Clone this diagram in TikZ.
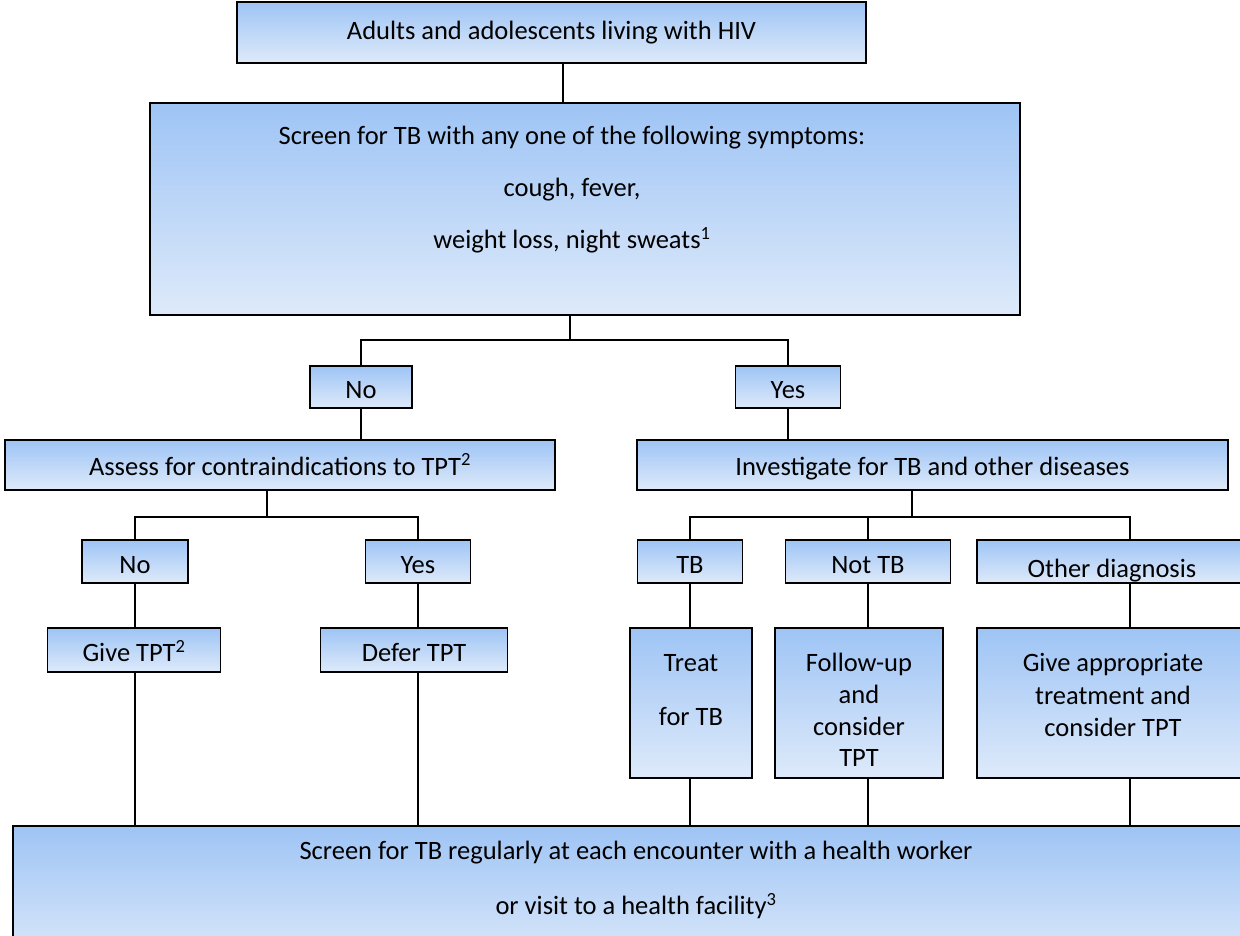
\documentclass[tikz,border=0pt]{standalone}
\usepackage{fontspec}
\setmainfont{Carlito}
\begin{document}
\begin{tikzpicture}[x=1pt,y=-1pt,
  box/.style={draw=black,line width=1.8pt,top color=boxtop,bottom color=boxbot,
    inner sep=0pt,align=center,font=\fontsize{26.5}{32}\selectfont},
  lowtext/.style={text height=23pt,text depth=0pt},
  txt/.style={inner sep=0pt,align=center},
  link/.style={draw=black,line width=2pt}]
\definecolor{boxtop}{RGB}{158,196,245}
\definecolor{boxbot}{RGB}{222,234,250}
\useasboundingbox (0,0) rectangle (1240,935);
\clip (0,0) rectangle (1240,935);
\fill[white] (0,0) rectangle (1240,935);

% first two levels
\node[box,minimum width=629pt,minimum height=61pt] (hiv) at (551.5,32.5)
  {Adults and adolescents living with HIV};
\node[box,minimum width=870pt,minimum height=212pt] (screen) at (585,209) {};
\node[txt,font=\fontsize{26.5}{52}\selectfont] (screentext) at (572,190)
  {Screen for TB with any one of the following symptoms:\\cough, fever,\\weight loss, night sweats\textsuperscript{1}};

% symptom answers
\node[box,lowtext,minimum width=102pt,minimum height=42pt] (no1) at (361,387) {No};
\node[box,lowtext,minimum width=105pt,minimum height=42pt] (yes1) at (788,387) {Yes};

\node[box,text height=20pt,text depth=0pt,minimum width=550pt,minimum height=50pt] (assess) at (280,465)
  {Assess for contraindications to TPT\textsuperscript{2}};
\node[box,text height=20pt,text depth=0pt,minimum width=591pt,minimum height=50pt] (invest) at (932.5,465)
  {Investigate for TB and other diseases};

% third level
\node[box,lowtext,minimum width=106pt,minimum height=43pt] (no2) at (135,561.5) {No};
\node[box,lowtext,minimum width=105pt,minimum height=43pt] (yes2) at (418,561.5) {Yes};
\node[box,lowtext,minimum width=105pt,minimum height=43pt] (tb) at (690,561.5) {TB};
\node[box,lowtext,minimum width=165pt,minimum height=43pt] (nottb) at (868,561.5) {Not TB};
\node[box,minimum width=306pt,minimum height=43pt] (other) at (1130,561.5) {};
\begin{scope}
  \clip (977,541) rectangle (1240,581);
  \node[txt,font=\fontsize{26.5}{32}\selectfont,anchor=base] (othertext) at (1112,577) {Other diagnosis};
\end{scope}

% actions
\node[box,lowtext,minimum width=173pt,minimum height=44pt] (give) at (134,650) {Give TPT\textsuperscript{2}};
\node[box,lowtext,minimum width=187pt,minimum height=44pt] (defer) at (414,650) {Defer TPT};
\node[box,minimum width=122pt,minimum height=150pt] (treat) at (691,703) {};
\node[txt,font=\fontsize{26.5}{54}\selectfont] (treattext) at (691,690) {Treat\\for TB};
\node[box,minimum width=168pt,minimum height=150pt] (follow) at (859,703) {};
\node[txt,font=\fontsize{26.5}{31.7}\selectfont] (followtext) at (859,710) {Follow-up\\and\\consider\\TPT};
\node[box,minimum width=306pt,minimum height=150pt] (approp) at (1130,703) {};
\node[txt,font=\fontsize{26.5}{32.5}\selectfont] (approptext) at (1113,695)
  {Give appropriate\\treatment and\\consider TPT};

% final step
\node[box,minimum width=1250pt,minimum height=140pt,anchor=north west] (regular) at (12,825) {};
\node[txt,font=\fontsize{26.5}{55}\selectfont] (regtext) at (636,880)
  {Screen for TB regularly at each encounter with a health worker\\or visit to a health facility\textsuperscript{3}};

% junction points
\coordinate (j1) at (570,340);
\coordinate (j2) at (267,517);
\coordinate (j3) at (912,517);

% connectors
\draw[link] (hiv.south -| 563,0) -- (screen.north -| 563,0);
\draw[link] (screen.south -| j1) -- (j1);
\draw[link] (no1.north) |- (j1) -| (yes1.north);
\draw[link] (no1.south) -- (no1.south |- assess.north);
\draw[link] (yes1.south) -- (yes1.south |- invest.north);
\draw[link] (assess.south -| j2) -- (j2);
\draw[link] (no2.north) |- (j2) -| (yes2.north);
\draw[link] (invest.south -| j3) -- (j3);
\draw[link] (tb.north) |- (j3) -| (other.north);
\draw[link] (nottb.north) -- (nottb.north |- j3);
\draw[link] (no2.south) -- (give.north -| no2.south);
\draw[link] (yes2.south) -- (defer.north -| yes2.south);
\draw[link] (tb.south) -- (treat.north -| tb.south);
\draw[link] (nottb.south) -- (follow.north -| nottb.south);
\draw[link] (other.south) -- (approp.north);
\draw[link] (give.south -| no2.south) -- (regular.north -| no2.south);
\draw[link] (defer.south -| yes2.south) -- (regular.north -| yes2.south);
\draw[link] (treat.south -| tb.south) -- (regular.north -| tb.south);
\draw[link] (follow.south -| nottb.south) -- (regular.north -| nottb.south);
\draw[link] (approp.south) -- (regular.north -| approp.south);
\end{tikzpicture}
\end{document}
